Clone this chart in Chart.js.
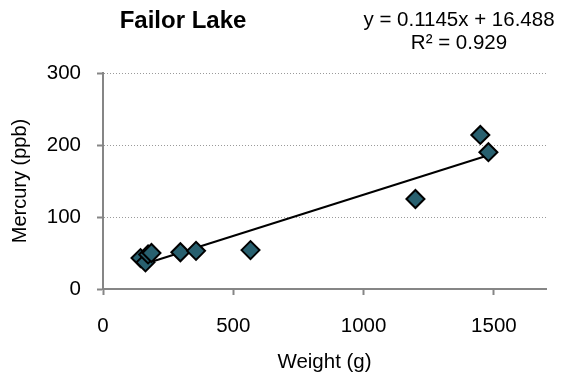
<!DOCTYPE html>
<html>
<head>
<meta charset="utf-8">
<title>Failor Lake</title>
<script src="https://cdn.jsdelivr.net/npm/chart.js@4/dist/chart.umd.min.js"></script>
<style>
  html, body { margin: 0; padding: 0; background: #fff; }
  #chart { display: block; }
</style>
</head>
<body>
<canvas id="chart" width="567" height="381"></canvas>
<script>
// fish weight (g) vs mercury (ppb)
const weights = [144, 163, 173, 186, 297, 357, 566, 1199, 1448, 1479];
const mercury = [43, 37, 48, 50, 51, 53, 54, 125, 214, 190];

// linear fit
const slope = 0.1145;
const intercept = 16.488;
const rSquared = 0.929;

const xTicks = [0, 500, 1000, 1500];
const yTicks = [0, 100, 200, 300];

const FONT = "'Liberation Sans', Arial, sans-serif";

const points = weights.map((w, i) => ({ x: w, y: mercury[i] }));
const xMin = Math.min(...weights);
const xMax = Math.max(...weights);
const trend = [xMin, xMax].map(x => ({ x: x, y: slope * x + intercept }));

// title and equation text above the plot
const headerText = {
    id: 'headerText',
    afterDraw(chart) {
        const ctx = chart.ctx;
        ctx.save();
        ctx.fillStyle = '#000';
        ctx.textAlign = 'center';
        ctx.textBaseline = 'middle';
        ctx.font = `bold 24px ${FONT}`;
        ctx.fillText('Failor Lake', 183, 21);
        ctx.font = `20.5px ${FONT}`;
        ctx.fillText(`y = ${slope}x + ${intercept}`, 459, 20);
        ctx.fillText(`R² = ${rSquared}`, 459, 43);
        ctx.restore();
    }
};

new Chart(document.getElementById('chart'), {
    type: 'scatter',
    data: {
        datasets: [
            {
                type: 'line',
                data: trend,
                borderColor: '#000',
                borderWidth: 2,
                pointRadius: 0,
                fill: false,
                order: 2
            },
            {
                data: points,
                pointStyle: 'rectRot',
                pointRadius: 9,
                pointHoverRadius: 9,
                backgroundColor: '#28606F',
                borderColor: '#000',
                borderWidth: 2,
                order: 1
            }
        ]
    },
    options: {
        responsive: false,
        animation: false,
        devicePixelRatio: 1,
        layout: { padding: { top: 73, right: 21, left: 0, bottom: 0 } },
        plugins: {
            legend: { display: false },
            tooltip: { enabled: false },
            title: { display: false }
        },
        scales: {
            x: {
                type: 'linear',
                min: 0,
                max: 1700,
                afterFit(scale) { scale.height = 92; },
                afterBuildTicks(scale) { scale.ticks = xTicks.map(v => ({ value: v })); },
                ticks: {
                    font: { family: FONT, size: 20.5 },
                    color: '#000',
                    padding: 19,
                    maxRotation: 0,
                    callback: v => String(v)
                },
                grid: {
                    drawOnChartArea: false,
                    tickLength: 6,
                    tickColor: '#868686',
                    tickWidth: 2
                },
                border: { color: '#868686', width: 2 },
                title: {
                    display: true,
                    text: 'Weight (g)',
                    font: { family: FONT, size: 20.5 },
                    color: '#000',
                    padding: { top: 0, bottom: 6 }
                }
            },
            y: {
                type: 'linear',
                min: 0,
                max: 300,
                afterFit(scale) { scale.width = 103; },
                afterBuildTicks(scale) { scale.ticks = yTicks.map(v => ({ value: v })); },
                ticks: {
                    font: { family: FONT, size: 20.5 },
                    color: '#000',
                    padding: 16,
                    callback: v => String(v)
                },
                grid: {
                    color: '#9a9a9a',
                    lineWidth: 1,
                    tickLength: 6,
                    tickColor: '#868686',
                    tickWidth: 2,
                    tickBorderDash: []
                },
                border: { color: '#868686', width: 2, dash: [1, 2] },
                title: {
                    display: true,
                    text: 'Mercury (ppb)',
                    font: { family: FONT, size: 20 },
                    color: '#000',
                    padding: { top: 8, bottom: 0 }
                }
            }
        }
    },
    plugins: [headerText]
});
</script>
</body>
</html>
